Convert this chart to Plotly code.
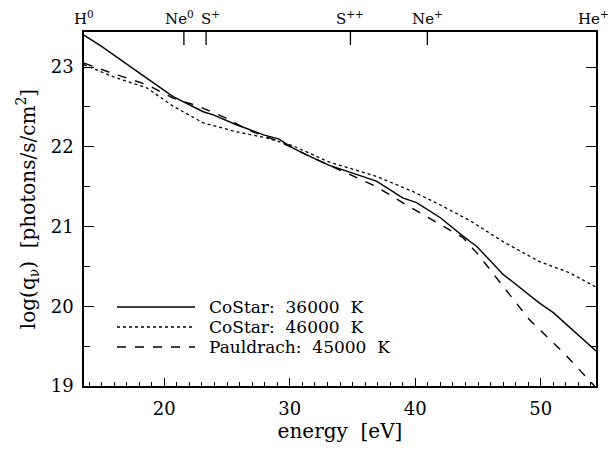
import plotly.graph_objects as go

# ---- data ----
costar36_x = [13.6, 15.0, 17.8, 20.7, 23.1, 23.9, 25.7, 27.9, 29.1, 30.3, 31.6, 33.1, 36.9, 39.0, 40.1, 42.0, 43.8, 44.9, 47.0, 49.9, 51.0, 54.4]
costar36_y = [23.40, 23.26, 22.95, 22.63, 22.44, 22.40, 22.28, 22.15, 22.10, 21.98, 21.88, 21.77, 21.57, 21.36, 21.30, 21.11, 20.88, 20.75, 20.40, 20.04, 19.92, 19.44]

costar46_x = [13.6, 15.9, 18.6, 20.7, 23.1, 25.7, 28.2, 30.3, 33.1, 36.9, 39.8, 42.0, 44.4, 47.0, 49.9, 52.3, 54.4]
costar46_y = [23.03, 22.88, 22.74, 22.51, 22.30, 22.19, 22.11, 22.01, 21.81, 21.63, 21.44, 21.27, 21.07, 20.81, 20.56, 20.42, 20.24]

pauld45_x = [13.6, 15.9, 18.6, 20.7, 22.7, 24.8, 26.7, 29.1, 31.6, 34.3, 36.9, 39.3, 42.2, 43.8, 44.9, 47.0, 49.1, 51.8, 53.9, 54.4]
pauld45_y = [23.05, 22.92, 22.78, 22.61, 22.51, 22.37, 22.21, 22.07, 21.88, 21.69, 21.50, 21.27, 21.00, 20.86, 20.67, 20.25, 19.83, 19.42, 19.06, 18.98]

ion_names = ["H<sup>0</sup>", "Ne<sup>0</sup>", "S<sup>+</sup>", "S<sup>++</sup>", "Ne<sup>+</sup>", "He<sup>+</sup>"]
ion_energies = [13.6, 21.56, 23.33, 34.83, 40.96, 54.4]
ion_label_shift = [0, -4, 4, 0, 0, -3]

legend_labels = ["CoStar:  36000  K", "CoStar:  46000  K", "Pauldrach:  45000  K"]
legend_dash = ["solid", "dot", "dash"]

FONT = "DejaVu Serif"

fig = go.Figure()
series = [(costar36_x, costar36_y), (costar46_x, costar46_y), (pauld45_x, pauld45_y)]
for (xs, ys), name, dash in zip(series, legend_labels, legend_dash):
    fig.add_trace(go.Scatter(x=xs, y=ys, mode="lines", name=name,
                             line=dict(color="black", width=1.4 if dash != "dot" else 1.3, dash=dash),
                             showlegend=False))

shapes = []
annotations = []
# ion ticks and labels on top axis
for name, e, sh in zip(ion_names, ion_energies, ion_label_shift):
    if 13.6 < e < 54.4:
        shapes.append(dict(type="line", xref="x", yref="paper", x0=e, x1=e, y0=1, y1=1 - 13 / 354,
                           line=dict(color="black", width=1.3)))
    annotations.append(dict(x=e, y=1, xref="x", yref="paper", text=name, showarrow=False,
                            yanchor="bottom", xanchor="center", yshift=2, xshift=sh,
                            font=dict(family=FONT, size=15, color="black")))

# legend drawn manually
leg_y = [307, 327, 347]
for lab, dash, py in zip(legend_labels, legend_dash, leg_y):
    yp = (386 - py) / 354
    x0p = (117 - 84) / 512
    x1p = (195 - 84) / 512
    shapes.append(dict(type="line", xref="paper", yref="paper", x0=x0p, x1=x1p, y0=yp, y1=yp,
                       line=dict(color="black", width=1.4 if dash != "dot" else 1.3, dash=dash)))
    annotations.append(dict(x=(207 - 84) / 512, y=yp, xref="paper", yref="paper", text=lab,
                            showarrow=False, xanchor="left", yanchor="middle",
                            font=dict(family=FONT, size=17, color="black")))

fig.update_layout(
    width=611, height=450,
    margin=dict(l=84, r=15, t=32, b=64),
    plot_bgcolor="white", paper_bgcolor="white",
    font=dict(family=FONT, size=18, color="black"),
    shapes=shapes, annotations=annotations,
    xaxis=dict(range=[13.6, 54.4], showgrid=False, zeroline=False,
               showline=True, linecolor="black", linewidth=1.5, mirror=True,
               ticks="inside", ticklen=8, tickwidth=1.2, tickcolor="black",
               tickmode="array", tickvals=[20, 30, 40, 50],
               minor=dict(ticks="inside", ticklen=4, tickwidth=1, tickcolor="black", dtick=1, tick0=0, showgrid=False),
               tickfont=dict(family=FONT, size=18), ticklabelstandoff=6,
               title=dict(text="energy  [eV]", font=dict(family=FONT, size=20), standoff=2)),
    yaxis=dict(range=[19, 23.44], showgrid=False, zeroline=False,
               showline=True, linecolor="black", linewidth=1.5, mirror="ticks",
               ticks="inside", ticklen=10, tickwidth=1.2, tickcolor="black",
               tickmode="array", tickvals=[19, 20, 21, 22, 23],
               minor=dict(ticks="inside", ticklen=6, tickwidth=1, tickcolor="black", dtick=0.5, tick0=19, showgrid=False),
               tickfont=dict(family=FONT, size=18), ticklabelstandoff=5,
               title=dict(text="log(q<sub>ν</sub>)  [photons/s/cm<sup>2</sup>]", font=dict(family=FONT, size=20), standoff=10)),
)

fig.write_html("out.html")
